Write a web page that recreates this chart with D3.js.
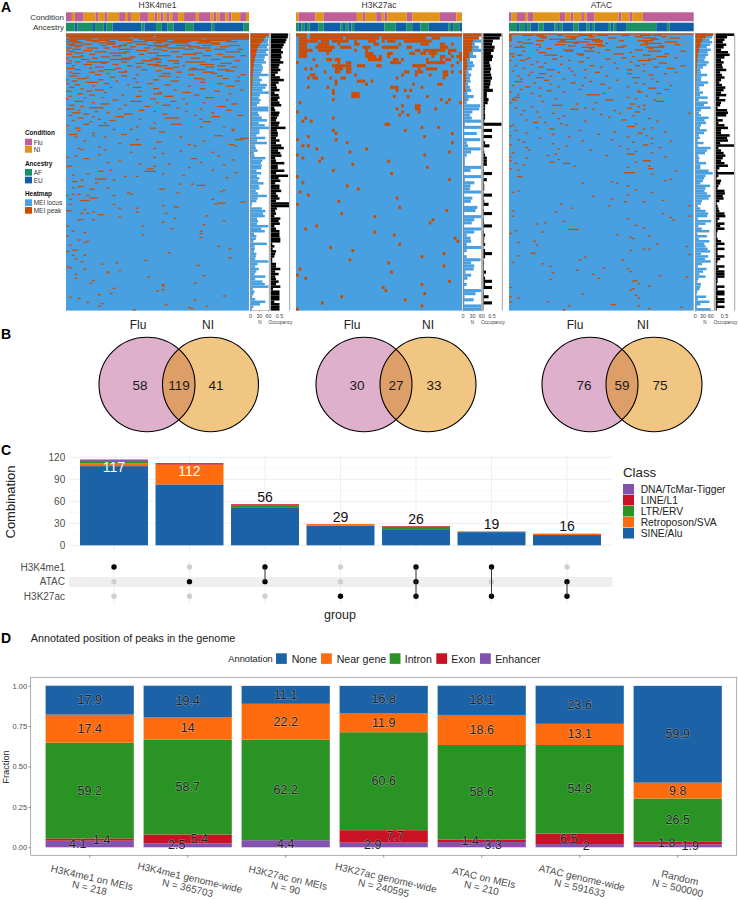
<!DOCTYPE html>
<html>
<head>
<meta charset="UTF-8">
<title>MEI peaks</title>
<script src="https://d3js.org/d3.v7.min.js"></script>
<style>
  body { margin: 0; background: #fff; }
  svg { display: block; font-family: "Liberation Sans", Arial, sans-serif; }
</style>
</head>
<body>
<svg id="chart" width="738" height="901"></svg>
<script>
// ---- A: heatmaps. Annotation tracks are runs of samples, peaks are [row, column, length]
const me1Condition = [["Flu",2],["NI",1],["Flu",3],["NI",4],["Flu",1],["NI",2],["Flu",1],["NI",4],["Flu",2],["NI",1],["Flu",1],["NI",3],["Flu",3],["NI",2],["Flu",1],["NI",1],["Flu",1],["NI",1],["Flu",1],["NI",1],["Flu",2],["NI",2],["Flu",4],["NI",1],["Flu",4],["NI",1],["Flu",1],["NI",1],["Flu",2],["NI",1],["Flu",1],["NI",3],["Flu",2],["NI",1]];
const me1Ancestry = [["AF",3],["EU",1],["AF",5],["EU",1],["AF",3],["EU",1],["AF",2],["EU",10],["AF",1],["EU",4],["AF",2],["EU",2],["AF",2],["EU",4],["AF",3],["EU",6],["AF",1],["EU",10],["AF",2]];
const k27Condition = [["NI",1],["Flu",6],["NI",3],["Flu",12],["NI",2],["Flu",1],["NI",4],["Flu",2],["NI",1],["Flu",1],["NI",7],["Flu",2],["NI",10],["Flu",6],["NI",2]];
const k27Ancestry = [["AF",1],["EU",1],["AF",1],["EU",1],["AF",1],["EU",3],["AF",2],["EU",6],["AF",1],["EU",1],["AF",1],["EU",1],["AF",1],["EU",11],["AF",4],["EU",4],["AF",2],["EU",3],["AF",3],["EU",7],["AF",1],["EU",1],["AF",2],["EU",1]];
const atacCondition = [["Flu",1],["NI",2],["Flu",3],["NI",1],["Flu",2],["NI",10],["Flu",2],["NI",2],["Flu",1],["NI",3],["Flu",1],["NI",1],["Flu",3],["NI",9],["Flu",1],["NI",3],["Flu",1],["NI",4],["Flu",19]];
const atacAncestry = [["AF",3],["EU",1],["AF",2],["EU",1],["AF",1],["EU",3],["AF",2],["EU",4],["AF",1],["EU",1],["AF",1],["EU",4],["AF",2],["EU",3],["AF",1],["EU",1],["AF",1],["EU",5],["AF",1],["EU",1],["AF",1],["EU",4],["AF",11],["EU",4],["AF",1],["EU",9]];

const me1Peaks = [[0,0,63],[1,0,63],[2,0,30],[2,31,32],[3,1,21],[3,23,40],[4,0,9],[4,11,12],[4,25,22],[4,48,15],[5,1,3],[5,7,8],[5,18,5],[5,27,8],[5,37,20],[6,0,5],[6,9,2],[6,14,3],[6,23,5],[6,31,12],[6,46,4],[6,55,4],[7,2,4],[7,11,6],[7,21,2],[7,30,3],[7,36,6],[7,45,8],[8,0,3],[8,6,3],[8,14,3],[8,20,1],[8,24,4],[8,34,2],[8,50,3],[9,1,5],[9,12,2],[9,18,3],[9,28,7],[9,38,5],[9,47,3],[9,56,4],[10,3,2],[10,16,3],[10,22,2],[10,31,4],[10,42,4],[10,53,3],[11,0,2],[11,7,4],[11,13,2],[11,27,2],[11,35,6],[11,45,5],[12,2,3],[12,18,5],[12,30,3],[12,41,3],[12,51,4],[12,59,2],
[13,0,1],[13,6,3],[13,24,4],[13,33,2],[13,48,2],[14,1,2],[14,10,4],[14,20,2],[14,36,3],[14,55,5],[15,3,3],[15,15,6],[15,28,4],[15,44,3],[16,0,2],[16,8,2],[16,25,2],[16,40,5],[16,52,2],[17,5,1],[17,16,3],[17,31,5],[17,47,3],[17,60,2],[18,2,4],[18,12,3],[18,22,2],[18,38,2],[18,54,4],[19,0,1],[19,9,2],[19,19,4],[19,30,2],[19,43,3],[20,5,3],[20,15,7],[20,29,4],[20,50,3],[21,1,1],[21,26,4],[21,35,4],[21,58,2],[22,3,2],[22,7,8],[22,19,2],[22,31,2],[22,41,7],[23,0,2],[23,12,2],[23,24,3],[23,37,2],[23,53,4],[24,6,3],[24,16,2],[24,28,4],[24,46,5],[25,2,1],[25,21,2],[25,30,5],[25,40,1],[25,52,3],[26,10,3],[26,24,2],[26,37,2],[26,48,3],[26,57,2],[27,0,3],[27,8,1],[27,17,2],[27,34,3],[27,43,2],[28,3,2],[28,13,4],[28,26,2],[28,42,6],[28,52,4],[29,11,2],[29,20,1],[29,31,2],[29,55,3],[30,1,1],[30,8,2],[30,18,3],[30,38,2],[30,47,4],[31,2,3],[31,14,1],[31,33,3],[31,50,2],[32,10,2],[32,24,1],[32,42,2],[32,60,2],[33,1,3],[33,19,2],[33,32,4],[33,52,2],[34,7,1],[34,15,2],[34,38,1],[34,59,1],[35,4,3],[35,23,1],[35,44,3],[35,54,2],[36,0,1],[36,11,2],[36,30,2],[36,47,1],[37,2,2],[37,17,1],[37,36,3],[37,58,2],[38,7,4],[38,24,1],[38,46,2],[39,0,1],[39,13,2],[39,28,2],[39,52,2],
[40,3,2],[40,21,1],[40,34,2],[41,9,1],[41,42,1],[41,55,3],[42,1,2],[42,15,1],[42,23,3],[43,5,1],[43,30,2],[43,46,2],[44,10,3],[44,37,1],[44,60,1],[45,0,2],[45,7,2],[45,25,1],[45,51,2],[46,13,1],[46,32,1],[46,40,3],[47,4,2],[47,30,3],[47,56,1],[48,8,2],[48,19,1],[48,44,2],[49,1,1],[49,24,2],[49,34,3],[50,6,1],[50,12,1],[50,48,3],[51,0,1],[51,29,2],[51,40,1],[52,16,2],[52,55,1],[53,3,3],[53,22,4],[53,36,2],[54,9,1],[54,31,1],[54,47,1],[55,12,3],[55,41,1],[55,57,2],[56,1,2],[56,20,1],[56,33,3],[57,5,1],[57,27,2],[57,52,3],[58,8,5],[58,38,1],[59,0,3],[59,18,1],[59,46,1],[60,4,1],[60,25,2],[60,55,2],[61,10,1],[61,30,1],[61,41,1],[62,2,3],[62,14,1],[62,50,1],[63,6,2],[63,20,3],[63,33,2],[64,1,1],[64,44,1],[64,59,2],[65,50,3],[65,9,1],[65,17,3],[66,34,5],[66,4,2],[67,11,1],[67,46,1],[67,25,1],[68,2,1],[68,15,2],[69,47,3],[69,8,1],[70,30,1],[70,13,1],[71,36,4],[71,6,2],[72,0,1],[72,11,4],[73,46,1],[73,54,1],[73,24,1],[74,3,2],[74,29,2],[75,22,1],[75,57,1],[75,16,1],[76,57,1],[76,4,1],[77,32,2],[78,9,1],[79,1,3],[79,19,2],[80,51,3],[80,9,1],[81,3,1],[81,13,1],[81,39,1],[82,60,3],[83,58,3],[83,24,1],[84,6,1],[84,47,1],[85,31,2],[86,18,1],[87,22,4],[87,42,1],[87,56,2],[88,44,1],[88,58,1],[89,11,1],[90,30,1],[90,4,1],[91,5,1],[91,13,1],[92,39,1],[93,22,1],[93,50,1],[94,33,1],[95,11,1],[96,3,1],[96,52,1],[97,0,1],[97,30,1],[98,43,2],[98,6,2],[99,57,1],[100,18,1],[101,14,1],[101,46,1],[102,35,1],[102,25,1],[103,54,1],[104,0,2],[104,30,1],[105,42,1],[106,28,2],[107,15,1],[107,50,1],[108,11,2],[108,27,4],[109,58,1],[110,33,1],[110,7,1],[111,40,1],[111,2,1],[112,20,1],[112,24,1],[113,55,1],
[114,10,4],[115,16,1],[115,5,1],[116,2,2],[117,10,1],[118,39,1],[118,43,1],[119,45,3],[120,4,2],[121,2,1],[121,14,1],[122,8,2],[122,32,2],[123,54,1],[124,53,1],[125,21,1],[125,38,1],[126,2,1],[126,4,1],[126,22,1],[127,0,1],[127,7,1],[127,16,1],[129,8,2],[129,10,1],[130,1,1],[130,50,1],[131,5,3],[132,60,2],[133,52,3],[134,1,1],[134,16,1],[134,51,1],[135,33,1],[136,37,2],[137,18,1],[137,24,1],[138,6,1],[139,0,2],[140,9,1],[140,24,1],[141,5,1],[141,7,1],[141,34,1],[142,11,2],[143,48,1],[144,18,1],[145,37,1],[146,4,2],[146,9,1],[147,54,1],[148,33,1],[150,47,1],[151,0,1],[151,26,1],[153,36,1],[155,2,1],[155,46,1],[156,6,1],[157,46,1],[158,26,1],[159,0,1],[160,46,1],[162,4,1],[163,7,1],[164,6,1],[166,1,1],[167,52,1],[169,56,1],[170,2,2],[171,0,1],[172,35,1],[174,2,1],[174,6,1],[176,56,1],[177,3,1],[178,27,1],[179,5,1],[180,17,1],[181,12,1],[182,45,1],[183,0,1],[184,1,1],[185,6,1],[186,18,1],[187,14,1],[188,14,1],[189,3,1],[190,47,1],[191,28,1],[192,3,1],[194,9,1],[196,8,1],[196,44,1],[197,33,1],[198,33,1],[200,16,1],[201,33,1],[202,31,1],[204,15,1],[205,11,1],[206,54,1],[207,1,1],[208,4,1],[209,44,1],[211,7,1],[212,12,1],[213,34,1],[214,11,1],[214,48,1],[215,42,1],[216,43,1],[217,23,1]];

const k27Peaks = [[0,0,4],[0,5,55],[1,1,3],[1,5,12],[1,18,12],[1,31,16],[1,49,3],[2,1,7],[2,9,3],[2,13,6],[2,21,1],[2,26,3],[2,31,1],[2,33,3],[2,39,10],[3,1,3],[3,8,4],[3,15,1],[3,21,2],[3,28,2],[3,37,1],[3,45,3],[3,52,2],[3,56,1],[4,1,3],[4,7,3],[4,10,3],[4,13,1],[4,16,4],[4,24,3],[4,31,6],[4,40,2],[4,52,3],[5,1,3],[5,4,2],[5,8,5],[5,21,1],[5,25,1],[5,43,2],[5,46,6],[5,52,2],[5,55,3],[6,1,3],[6,11,1],[6,25,3],[6,33,2],[6,41,2],[6,45,2],[6,48,3],[6,55,1],[6,59,1],[7,1,3],[7,25,4],[7,30,1],[7,33,1],[7,49,1],[7,52,2],[7,56,1],[7,58,2],[8,6,1],[8,11,2],[8,14,2],[8,26,3],[8,29,2],[8,35,2],[8,38,1],[8,47,1],[8,52,1],[8,54,2],[8,59,1],[9,0,1],[9,15,1],[9,18,2],[9,34,3],[9,37,1],[9,47,4],[9,51,3],[9,58,1],[10,7,1],[10,13,5],[10,18,2],[10,22,3],[10,29,2],[10,42,5],[10,56,1],[11,3,1],[11,5,1],[11,14,3],[11,18,2],[11,44,1],[11,47,4],[12,10,1],[12,14,2],[12,18,2],[12,39,2],[12,43,3],[12,53,2],[12,56,1],[12,59,1],[13,5,2],[13,21,1],[13,38,1],[13,43,1],[13,48,1],[13,53,2],[14,4,1],[14,6,2],[14,12,1],[14,16,2],[14,36,1],[14,53,1],[15,14,1],[15,22,3],[15,27,1],[16,14,1],[16,25,1],[16,42,1],[16,51,2],[17,4,1],[17,11,1],[17,34,2],[17,36,1],[17,45,1],[18,13,1],[18,36,1],[18,39,1],[18,41,1],[19,13,1],[19,20,3],[20,20,2],[20,47,1],[20,22,1],[20,35,1],[20,40,1],[21,13,1],[21,52,1],[21,55,1],[22,1,1],[22,54,1],[22,59,1],[23,38,1],[23,43,2],[24,36,1],[24,43,2],[24,50,1],[25,0,1],[25,38,1],[25,44,1],[26,37,1],[26,40,1],[27,3,1],[27,13,1],[28,2,1],[28,5,1],[29,32,2],[30,45,1],[30,51,1],[31,13,1],[31,39,1],[32,14,1],[32,56,1],[33,4,1],[33,46,1],[34,0,1],[34,14,1],[35,18,1],[35,56,1],[36,2,1],[36,4,1],[37,7,1],[37,25,1],[38,19,1],[38,55,1],[39,0,1],[39,46,1],[40,2,1],[40,9,1],[41,8,1],[41,33,1],[42,20,1],[43,47,1],[44,13,1],[45,34,1],[46,0,1],[47,55,1],[48,2,1],[49,18,1],[50,22,1],[51,1,1],[52,4,1],[53,36,1],[54,15,1],[55,0,1],[56,37,1],[57,54,1],[58,16,1],[59,28,1],[60,49,1],[61,48,1],[62,7,1],[63,3,1],[64,28,1],[65,35,1],[66,57,1],[67,58,1],[68,37,1],[69,12,1],[70,20,1],[71,53,1],[72,45,1],[73,19,1],[74,33,1],[75,53,1],[76,1,1],[77,34,1],[78,0,1],[79,3,1],[80,55,1],[81,45,1],[82,31,1],[83,32,1],[84,46,1],[85,16,1],[86,39,1],[87,9,1],[88,45,1],[89,0,1]];

const atacPeaks = [[0,0,69],[1,0,1],[1,5,4],[1,10,3],[1,18,2],[1,26,5],[1,33,4],[1,42,3],[1,49,4],[1,54,3],[2,0,1],[2,11,3],[2,21,5],[2,30,2],[2,47,3],[2,57,2],[3,0,1],[3,12,2],[3,23,2],[3,37,3],[3,50,5],[3,60,4],[4,0,1],[4,7,1],[4,15,10],[4,28,6],[4,53,3],[5,0,1],[5,10,3],[5,19,2],[5,31,4],[5,41,2],[5,48,6],[6,3,2],[6,18,12],[6,32,3],[6,50,2],[6,58,5],[7,5,4],[7,24,2],[7,36,1],[7,51,6],[8,10,2],[8,17,4],[8,29,6],[8,49,3],[8,62,2],[9,0,1],[9,4,1],[9,22,3],[9,33,3],[9,42,2],[9,56,2],[10,2,4],[10,11,1],[10,27,5],[10,40,3],[10,51,7],[11,14,2],[11,30,1],[11,52,2],[12,10,1],[12,20,4],[12,36,2],[12,47,3],[13,5,1],[13,21,3],[13,28,4],[13,52,5],[13,64,2],[14,11,3],[14,33,1],[14,45,1],[15,0,2],[15,25,3],[15,39,4],[15,58,2],[16,3,2],[16,13,5],[16,26,2],[16,50,3],[17,1,1],[17,19,1],[17,46,1],[17,55,4],[18,7,1],[18,29,1],[18,42,2],[18,62,1],[19,6,1],[19,16,2],[19,36,2],[19,52,3],[20,0,1],[20,4,2],[20,22,1],[20,48,5],[21,10,1],[21,26,2],[21,45,1],[22,13,1],[22,39,1],[22,56,3],[23,8,1],[23,19,1],[23,50,1],[24,2,1],[24,30,2],[24,47,2],[24,64,2],[25,11,2],[25,34,1],[25,54,2],[26,5,1],[26,22,1],[26,40,1],[26,59,3],[27,14,3],[27,28,1],[27,44,2],[28,1,1],[28,23,1],[28,50,1],[29,8,1],[29,18,1],[29,32,2],[29,62,1],[30,11,3],[30,44,2],[30,58,1],[31,7,1],[31,24,1],[31,52,2],[32,3,1],[32,15,1],[32,36,1],[33,10,3],[33,28,1],[33,46,3],[34,4,1],[34,20,1],[34,53,1],[35,13,2],[35,40,1],[36,2,3],[36,30,1],[36,55,1],[37,9,1],[37,23,2],[37,47,1],[38,15,1],[38,34,2],[38,50,1],[39,1,1],[39,27,1],[39,60,1],[40,6,2],[40,18,1],[40,44,1],[41,11,1],[41,37,1],[41,52,3],[42,4,1],[42,26,1],[42,58,2],[43,14,2],[43,48,1],[44,48,2],[44,20,1],[44,0,1],[45,8,1],[45,55,2],[45,35,1],[46,29,5],[46,3,1],[47,51,1],[47,11,1],[48,2,2],[48,44,1],[49,1,1],[49,17,1],[49,47,1],[50,1,2],[50,36,3],[50,54,1],[51,55,3],[51,12,1],[52,0,1],[52,32,1],[53,45,2],[53,25,1],[54,16,4],[54,50,1],[55,8,1],[55,48,1],[56,2,1],[56,28,1],[56,44,2],[57,23,3],[57,31,1],[57,50,1],[58,5,1],[58,39,1],[59,47,2],[59,10,1],[60,16,1],[60,41,1],[60,67,1],[61,4,1],[61,34,1],[62,46,1],[62,20,1],[63,11,1],[63,37,1],[64,18,1],[64,52,1],[65,6,1],[65,42,2],[66,28,1],[66,55,1],[67,9,2],[67,13,1],[68,19,1],[68,47,1],[69,1,1],[69,21,1],[70,44,3],[70,0,1],[71,10,1],[71,53,1],[72,15,2],[72,50,1],[73,2,1],[73,26,1],[74,39,1],[74,58,1],[75,6,1],[75,48,2],[76,16,1],[76,33,1],[77,0,1],[77,51,1],[78,22,1],[78,44,1],[79,53,1],[79,11,1],[80,3,1],[80,38,1],[81,27,1],[81,60,1],[82,5,1],[82,46,1],[83,16,1],[83,53,1],[84,0,1],[84,50,2],[85,21,1],[85,41,1],[86,6,1],[86,56,1],[87,18,1],[87,44,1],[88,7,1],[88,30,1],[89,47,1],[90,1,1],[90,53,1],[91,44,3],[91,17,1],[92,14,1],[92,36,1],[93,0,1],[93,58,1],[94,6,1],[95,18,1],[96,50,3],[96,0,1],[97,15,2],[97,47,1],[98,20,3],[98,2,1],[99,5,1],[100,24,1],[100,52,1],[101,44,1],[102,0,1],[102,52,2],[103,3,1],[104,62,1],[105,43,2],[105,45,2],[106,53,1],[108,3,2],[110,60,1],[111,58,1],[112,38,1],[113,27,1],[113,40,1],[115,44,1],[118,47,1],[119,3,1],[120,1,1],[120,53,1],[122,44,1],[123,31,1],[125,38,1],[126,57,1],[127,43,1],[127,50,1],[129,19,1],[130,37,1],[130,67,1],[132,23,1],[134,1,1],[135,17,1],[136,57,1],[138,1,1],[138,67,1],[139,60,1],[140,44,1],[141,61,1],[142,20,1],[143,13,1],[144,10,1],[145,47,1],[147,50,1],[148,22,4],[149,2,1],[150,12,1],[151,0,1],[152,40,1],[153,52,1],[154,45,1],[155,46,1],[157,9,1],[158,3,1],[159,55,1],[160,10,1],[161,66,1],[163,50,1],[163,52,1],[164,45,1],[166,8,2],[167,67,1],[168,3,1],[169,28,1],[171,26,1],[171,42,1],[173,1,1],[174,12,1],[176,15,1],[177,35,1],[178,44,1],[179,25,1],[180,45,1],[181,16,1],[182,31,1],[183,56,1],[184,66,1],[185,33,1],[186,15,1],[187,46,2],[189,48,1],[191,52,1],[192,0,1],[193,46,1],[194,45,1],[197,27,1],[198,47,1],[199,0,1],[200,3,1],[200,48,1],[203,0,1],[203,14,1],[205,38,2],[206,22,1],[206,48,1],[207,64,1],[208,52,1],[209,20,1]];

// side bars: N of samples with the locus, N with a peak (rest of the rows are 1), occupancy
const me1N = [63,63,60,58,60,55,60,52,58,48,45,52,38,42,40,36,60,30,38,32,55,50,40,62,32,28,34,30,22,60,60,25,30,38,55,28,48,62,30,30,20,50,22,55,16,18,24,12,14,50,40,35,38,36,20,36,22,30,25,44,28,30,18,25,55,24,20,6,4,38,50,42,48,22,26,22,60,36,48,12,20,18,10,55,14,15,12,20,18,16,60,24,16,28,20,14,50,16,40,48,60,8,14,10,6,16,50,32,10,5];
const me1Wedge = [63,50,45,38,30,26,22,20,18,16,14,12,12,10,10,9,8,8,7,7,6,6,5,5,5,4,4,4,4,3,3,3,3,3,3,3,3,3,2,2,2,2,2,2,2,2,2,2,2,2];
const me1Occ = [1,.98,.9,.85,.75,.68,.6,.7,.6,.62,.55,.72,.5,.45,.55,.4,.25,.52,.75,.45,.3,.35,.5,.22,.45,.5,.4,.5,.6,.2,.25,.5,.45,.35,.3,.5,.45,.85,.35,.4,.4,.3,.5,.3,.6,.75,.42,.55,.62,.25,.3,.78,.4,.4,.78,.3,1,.45,.55,.25,.5,.5,.6,.3,.4,.5,.3,1.05,1.05,.35,.25,.3,.2,.55,.45,.52,.2,.3,.5,.5,.5,.55,.55,.08,.2,.1,.3,.25,.2,.08,.08,.3,.3,.55,.25,.45,.25,.3,.45,.3,.55,.12,.5,.5,.5,.5,.2,.5,.5,.5];
const k27N = [60,52,58,38,50,58,32,42,22,32,36,28,18,26,22,24,16,22,26,14,34,18,12,55,52,30,22,28,58,6,60,4,44,4,55,12,16,56,26,12,6,6,6,58,24,4,58,6,36,24,22,58,4,30,25,4,46,40,4,60,36,28,4,58,36,12,24,26,12,60,12,4,12,56,26,36,34,8,26,14,4,12,4,58,40,5,34,4,60,60];
const k27Wedge = [58,50,32,28,30,28,20,20,12,12,14,12,8,10,10,9,7,7,8,3,4,5,3,3,3,2,2,2,2,2];
const k27Occ = [1.05,.95,.55,.5,.65,.6,.45,.55,.5,.35,.4,.45,.4,.45,.5,.42,.4,.35,.55,.2,.2,.3,.25,.1,.1,.08,.1,.1,.05,1.05,.02,.5,.02,.5,.02,.1,.35,.02,.05,.1,.2,.2,.2,.02,.03,.5,.02,.2,.03,.05,.05,.02,.5,.03,.05,.3,.02,.03,.5,.02,.03,.04,.5,.02,.03,.1,.05,.04,.1,.02,.1,.5,.1,.02,.04,.03,.03,.15,.04,.1,.5,.1,.5,.02,.03,.3,.03,.5,.02,.02];
const atacN = [70,66,56,66,58,45,60,48,50,40,36,52,44,30,20,22,46,24,22,50,34,16,16,30,18,48,14,48,34,60,22,14,22,52,36,42,22,18,44,34,14,18,10,32,10,60,45,38,12,16,14,42,20,20,52,68,40,35,30,20,58,40,36,45,60,52,26,22,10,20,40,50,46,10,62,40,12,25,55,8,45,14,55,35,40,48,58,22,50,38,60,26,10,44,30,15,40,12,8,22,20,16,8,5,42,10,55,20,6,60];
const atacWedge = [69,40,28,22,20,16,14,12,10,9,8,7,6,6,5,5,4,4,4,3,3,3,3,3,2,2,2,2,2,2];
const atacOcc = [1.05,.65,.5,.4,.6,.45,.3,.7,.8,.5,.3,.45,.35,.4,.6,.25,.35,.5,.3,.2,.35,.55,.45,.3,.6,.2,.55,.3,.25,.1,.65,.7,.6,.1,.4,.15,.5,.7,.3,.3,.8,.65,.7,.25,1.05,.15,.3,.45,.55,.4,.3,.5,.7,.2,.1,1.05,.15,.05,.3,.25,.15,.1,.5,.52,.4,.45,.2,.05,.1,.15,.2,.5,.55,.2,.1,.5,.25,.5,.1,.05,.05,.1,.3,.5,.1,.5,.1,.1,.5,.25,.1,.05,.5,.15,.5,.5,.5,.1,.1,.05,.5,.1,.5,.5,.1,.5,.5,.1,.5,.05];

// ---- B: venn counts, [Flu only, both, NI only]
const vennMe1 = [58, 119, 41];
const vennK27 = [30, 27, 33];
const vennAtac = [76, 59, 75];

// ---- C: upset bars
const upsetTotals = [117, 112, 56, 29, 26, 19, 16];
const upsetClasses = ["SINE/Alu", "Retroposon/SVA", "LTR/ERV", "LINE/L1", "DNA/TcMar-Tigger"];
const upsetSine = [108, 83, 51, 27, 22, 18, 14];
const upsetSva = [4, 27, 0, 2, 0, 1, 2];
const upsetLtr = [2, 0, 3, 0, 3, 0, 0];
const upsetLine = [1, 2, 2, 0, 1, 0, 0];
const upsetDna = [2, 0, 0, 0, 0, 0, 0];
const upsetSets = ["H3K4me1", "ATAC", "H3K27ac"];
const upsetMembers = [["H3K4me1"], ["ATAC"], ["H3K4me1", "ATAC"], ["H3K27ac"], ["H3K4me1", "ATAC", "H3K27ac"], ["H3K4me1", "H3K27ac"], ["ATAC", "H3K27ac"]];

// ---- D: annotation fractions in percent
const annoBars = [["H3K4me1 on MEIs", "N = 218"], ["H3K4me1 genome-wide", "N = 365703"], ["H3K27ac on MEIs", "N = 90"], ["H3K27ac genome-wide", "N = 240595"], ["ATAC on MEIs", "N = 210"], ["ATAC genome-wide", "N = 591633"], ["Random", "N = 500000"]];
const annoClasses = ["Enhancer", "Exon", "Intron", "Near gene", "None"];
const annoEnhancer = [4.1, 2.5, 4.4, 2.9, 3.3, 2, 1.9];
const annoExon = [1.4, 5.4, 0, 7.7, 1.4, 6.5, 1.8];
const annoIntron = [59.2, 58.7, 62.2, 60.6, 58.6, 54.8, 26.5];
const annoNear = [17.4, 14, 22.2, 11.9, 18.6, 13.1, 9.8];
const annoNone = [17.9, 19.4, 11.1, 16.8, 18.1, 23.6, 59.9];

const svg = d3.select("#chart");
const trackCol = { Flu: "#BF5F98", NI: "#E2931A", AF: "#1B9064", EU: "#0F5FA8" };
const heatBlue = "#48A0E0", heatOrange = "#CC4C02";
const classCol = { "SINE/Alu": "#1B62A6", "Retroposon/SVA": "#FF6B0F", "LTR/ERV": "#299324", "LINE/L1": "#CB1224", "DNA/TcMar-Tigger": "#8351AE",
  "None": "#1B62A6", "Near gene": "#FF6B0F", "Intron": "#299324", "Exon": "#CB1224", "Enhancer": "#8351AE" };

function label(x, y, txt, size, opts) {
  opts = opts || {};
  return svg.append("text").attr("x", x).attr("y", y).text(txt)
    .attr("font-size", size)
    .attr("dominant-baseline", "central")
    .attr("text-anchor", opts.anchor || "start")
    .attr("font-weight", opts.weight || "normal")
    .attr("fill", opts.fill || "#222");
}

// panel letters
[["A", 7], ["B", 334], ["C", 450], ["D", 638]].forEach(d => label(1, d[1], d[0], 14, { weight: "bold", fill: "#000" }));

// ---- A
function track(runs, x0, x1, y0, y1) {
  const total = d3.sum(runs, d => d[1]);
  const x = d3.scaleLinear().domain([0, total]).range([x0, x1]);
  let at = 0;
  runs.forEach(r => {
    svg.append("rect").attr("x", x(at)).attr("y", y0).attr("width", x(at + r[1]) - x(at)).attr("height", y1 - y0).attr("fill", trackCol[r[0]]);
    at += r[1];
  });
}

function heatPanel(p) {
  const top = 33.4, bottom = 310.6;
  label((p.x0 + p.x1) / 2, 5, p.title, 8.5, { anchor: "middle", fill: "#333" });
  track(p.cond, p.x0, p.x1, 12.3, 21.3);
  track(p.anc, p.x0, p.x1, 22.7, 31.3);

  const col = d3.scaleBand().domain(d3.range(p.cols)).range([p.x0, p.x1]);
  const row = d3.scaleBand().domain(d3.range(p.rows)).range([top, bottom]);
  svg.append("rect").attr("x", p.x0).attr("y", top).attr("width", p.x1 - p.x0).attr("height", bottom - top).attr("fill", heatBlue);
  svg.append("g").selectAll("rect").data(p.peaks).join("rect")
    .attr("x", d => col(d[1]))
    .attr("y", d => row(d[0]))
    .attr("width", d => col.bandwidth() * d[2])
    .attr("height", row.bandwidth())
    .attr("fill", heatOrange);

  // N bars
  const bar = d3.scaleBand().domain(d3.range(p.n.length)).range([top, bottom]);
  const nx = d3.scaleLinear().domain([0, p.nMax]).range([p.barX, p.barX + p.barW]);
  svg.append("g").selectAll("rect").data(p.n).join("rect")
    .attr("x", p.barX).attr("y", (d, i) => bar(i))
    .attr("width", d => nx(d) - p.barX).attr("height", bar.bandwidth())
    .attr("fill", heatBlue);
  svg.append("g").selectAll("rect").data(p.n).join("rect")
    .attr("x", p.barX).attr("y", (d, i) => bar(i))
    .attr("width", (d, i) => nx(p.wedge[i] === undefined ? 1 : p.wedge[i]) - p.barX).attr("height", bar.bandwidth())
    .attr("fill", heatOrange);
  svg.append("rect").attr("x", p.barX).attr("y", top).attr("width", p.barW).attr("height", bottom - top)
    .attr("fill", "none").attr("stroke", "#888").attr("stroke-width", 0.5);
  svg.append("rect").attr("x", p.barX + p.barW - 0.5).attr("y", top).attr("width", 2).attr("height", bottom - top).attr("fill", "#b0b0b0");

  // occupancy bars
  const ox0 = p.barX + p.barW + 1.6, ow = 18.4;
  const ox = d3.scaleLinear().domain([0, 1.07]).range([ox0, ox0 + ow]);
  svg.append("g").selectAll("rect").data(p.occ).join("rect")
    .attr("x", ox0).attr("y", (d, i) => bar(i))
    .attr("width", d => ox(d) - ox0).attr("height", bar.bandwidth())
    .attr("fill", "#000");
  svg.append("rect").attr("x", ox0 + ow).attr("y", top).attr("width", 0.9).attr("height", bottom - top).attr("fill", "#999");

  // ticks under the bars
  [0, 30, 60].forEach(t => {
    svg.append("line").attr("x1", nx(t)).attr("x2", nx(t)).attr("y1", bottom).attr("y2", bottom + 1.5).attr("stroke", "#888").attr("stroke-width", 0.4);
    label(nx(t), 316, t, 5.4, { anchor: "middle", fill: "#444" });
  });
  label(ox(0.5), 316, "0.5", 5.4, { anchor: "middle", fill: "#444" });
  label(p.barX + p.barW / 2, 322, "N", 4.6, { anchor: "middle", fill: "#444" });
  label(ox(0.5) + 1, 322, "Occupancy", 4.8, { anchor: "middle", fill: "#444" });
}

heatPanel({ title: "H3K4me1", x0: 66, x1: 249, cols: 63, rows: 218, cond: me1Condition, anc: me1Ancestry, peaks: me1Peaks, n: me1N, wedge: me1Wedge, occ: me1Occ, barX: 250.4, barW: 18.9, nMax: 63 });
heatPanel({ title: "H3K27ac", x0: 296, x1: 462, cols: 60, rows: 90, cond: k27Condition, anc: k27Ancestry, peaks: k27Peaks, n: k27N, wedge: k27Wedge, occ: k27Occ, barX: 463, barW: 18.8, nMax: 60 });
heatPanel({ title: "ATAC", x0: 509, x1: 693.7, cols: 69, rows: 210, cond: atacCondition, anc: atacAncestry, peaks: atacPeaks, n: atacN, wedge: atacWedge, occ: atacOcc, barX: 695.3, barW: 19, nMax: 74 });

label(64, 17, "Condition", 8, { anchor: "end", fill: "#333" });
label(64, 27, "Ancestry", 8, { anchor: "end", fill: "#333" });

// heatmap legend
[["Condition", 132.7, [["Flu", "Flu", 138.7], ["NI", "NI", 146]]],
 ["Ancestry", 163, [["AF", "AF", 169], ["EU", "EU", 176.7]]],
 ["Heatmap", 193.3, [["MEI locus", heatBlue, 199.3], ["MEI peak", heatOrange, 207]]]].forEach(g => {
  label(25, g[1], g[0], 6.4, { weight: "bold", fill: "#111" });
  g[2].forEach(k => {
    svg.append("rect").attr("x", 25).attr("y", k[2]).attr("width", 7).attr("height", 6.7).attr("fill", trackCol[k[1]] || k[1]);
    label(33.7, k[2] + 3.4, k[0], 6.5, { fill: "#333" });
  });
});

// ---- B
const vennDefs = svg.append("defs");
function venn(id, cx1, cx2, labelX1, labelX2, counts, countXs) {
  const cy = 384.5, rx = 48, ry = 47.2;
  vennDefs.append("clipPath").attr("id", id).append("ellipse").attr("cx", cx1).attr("cy", cy).attr("rx", rx).attr("ry", ry);
  svg.append("ellipse").attr("cx", cx1).attr("cy", cy).attr("rx", rx).attr("ry", ry).attr("fill", "#DFB0CC");
  svg.append("ellipse").attr("cx", cx2).attr("cy", cy).attr("rx", rx).attr("ry", ry).attr("fill", "#F0C682");
  svg.append("ellipse").attr("cx", cx2).attr("cy", cy).attr("rx", rx).attr("ry", ry).attr("fill", "#DE9E68").attr("clip-path", "url(#" + id + ")");
  [cx1, cx2].forEach(c => svg.append("ellipse").attr("cx", c).attr("cy", cy).attr("rx", rx).attr("ry", ry).attr("fill", "none").attr("stroke", "#000").attr("stroke-width", 1.1));
  label(labelX1, 324.5, "Flu", 12, { anchor: "middle", fill: "#222" });
  label(labelX2, 324.5, "NI", 12, { anchor: "middle", fill: "#222" });
  counts.forEach((c, i) => label(countXs[i], 385, c, 13.5, { anchor: "middle", fill: "#1a1a1a" }));
}
venn("vennA", 147, 210.5, 138, 208, vennMe1, [140, 179, 216]);
venn("vennB", 364, 428, 352, 428, vennK27, [357, 396, 434]);
venn("vennC", 590, 654, 575, 643, vennAtac, [584, 622, 660]);

// ---- C
const upX = d3.scaleBand().domain(d3.range(upsetTotals.length)).range([68.7, 612.3]).paddingInner(0.1).paddingOuter(0.15);
const upY = d3.scaleLinear().domain([0, 120]).range([545.3, 457.3]);
const upRows = d3.scalePoint().domain(upsetSets).range([567, 596.3]);

const upGrid = svg.append("g");
[15, 45, 75, 105].forEach(t => upGrid.append("line").attr("x1", 68.7).attr("x2", 612.3).attr("y1", upY(t)).attr("y2", upY(t)).attr("stroke", "#f2f2f2").attr("stroke-width", 0.5));
[0, 30, 60, 90, 120].forEach(t => upGrid.append("line").attr("x1", 68.7).attr("x2", 612.3).attr("y1", upY(t)).attr("y2", upY(t)).attr("stroke", "#ebebeb").attr("stroke-width", 0.8));
upsetTotals.forEach((d, i) => {
  const cx = upX(i) + upX.bandwidth() / 2;
  upGrid.append("line").attr("x1", cx).attr("x2", cx).attr("y1", 455.5).attr("y2", 551).attr("stroke", "#ebebeb").attr("stroke-width", 0.8);
  upGrid.append("line").attr("x1", cx).attr("x2", cx).attr("y1", 559).attr("y2", 605).attr("stroke", "#ebebeb").attr("stroke-width", 0.8);
});

const upStack = d3.stack().keys(upsetClasses)(upsetTotals.map((d, i) => ({
  "SINE/Alu": upsetSine[i], "Retroposon/SVA": upsetSva[i], "LTR/ERV": upsetLtr[i], "LINE/L1": upsetLine[i], "DNA/TcMar-Tigger": upsetDna[i]
})));
svg.append("g").selectAll("g").data(upStack).join("g")
  .attr("fill", d => classCol[d.key])
  .selectAll("rect").data(d => d).join("rect")
  .attr("x", (d, i) => upX(i))
  .attr("y", d => upY(d[1]))
  .attr("width", upX.bandwidth())
  .attr("height", d => upY(d[0]) - upY(d[1]));

upsetTotals.forEach((d, i) => {
  const cx = upX(i) + upX.bandwidth() / 2;
  const inside = i < 2;
  label(cx, inside ? upY(d) + 7.5 : upY(d) - 7.5, d, 14, { anchor: "middle", fill: inside ? "#fff" : "#111" });
});

const upAxis = svg.append("g").attr("transform", "translate(68.7,0)").call(d3.axisLeft(upY).tickValues([0, 30, 60, 90, 120]).tickSize(0).tickPadding(3.5));
upAxis.select(".domain").remove();
upAxis.selectAll("text").attr("font-size", 10).attr("font-family", "Liberation Sans").attr("fill", "#4d4d4d");

svg.append("text").attr("transform", "translate(10.5,502) rotate(-90)").attr("text-anchor", "middle").attr("dominant-baseline", "central")
  .attr("font-size", 13).attr("fill", "#222").text("Combination");

svg.append("rect").attr("x", 68.7).attr("y", 577).attr("width", 543.6).attr("height", 10).attr("fill", "#efefef");
upsetSets.forEach(s => label(65, upRows(s), s, 10, { anchor: "end", fill: "#4d4d4d" }));
upsetMembers.forEach((m, i) => {
  const cx = upX(i) + upX.bandwidth() / 2;
  upsetSets.forEach(s => {
    svg.append("circle").attr("cx", cx).attr("cy", upRows(s)).attr("r", 2.7).attr("fill", m.includes(s) ? "#000" : "#cfcfcf");
  });
  if (m.length > 1) {
    const ys = m.map(s => upRows(s));
    svg.append("line").attr("x1", cx).attr("x2", cx).attr("y1", d3.min(ys)).attr("y2", d3.max(ys)).attr("stroke", "#333").attr("stroke-width", 1);
  }
});
label(340, 614.5, "group", 12.5, { anchor: "middle", fill: "#222" });

label(623, 472, "Class", 13.3, { fill: "#222" });
upsetClasses.slice().reverse().forEach((c, i) => {
  svg.append("rect").attr("x", 623).attr("y", 484 + i * 11).attr("width", 11).attr("height", 10.5).attr("fill", classCol[c]);
  label(640.7, 489.5 + i * 11, c, 10.3, { fill: "#222" });
});

// ---- D
label(30.7, 638, "Annotated position of peaks in the genome", 10.8, { fill: "#222" });
label(228.3, 658.8, "Annotation", 9.3, { fill: "#222" });
[["None", 276, 291.7], ["Near gene", 321, 336.7], ["Intron", 389.7, 404.7], ["Exon", 436.3, 451.3], ["Enhancer", 480, 495.3]].forEach(k => {
  svg.append("rect").attr("x", k[1]).attr("y", 653.3).attr("width", 10.8).attr("height", 10.6).attr("fill", classCol[k[0]]);
  label(k[2], 658.8, k[0], 10.6, { fill: "#222" });
});

const anX = d3.scaleBand().domain(d3.range(annoBars.length)).range([30.7, 736.7]).paddingInner(0.1).paddingOuter(0.152);
const anY = d3.scaleLinear().domain([0, 100]).range([847.3, 685.7]);
const anStack = d3.stack().keys(annoClasses)(annoBars.map((d, i) => ({
  "Enhancer": annoEnhancer[i], "Exon": annoExon[i], "Intron": annoIntron[i], "Near gene": annoNear[i], "None": annoNone[i]
})));
svg.append("g").selectAll("g").data(anStack).join("g")
  .attr("fill", d => classCol[d.key])
  .selectAll("rect").data(d => d).join("rect")
  .attr("x", (d, i) => anX(i))
  .attr("y", d => anY(Math.min(d[1], 100)))
  .attr("width", anX.bandwidth())
  .attr("height", d => anY(d[0]) - anY(Math.min(d[1], 100)));

svg.append("rect").attr("x", 30.7).attr("y", 677.3).attr("width", 706).attr("height", 178).attr("fill", "none").attr("stroke", "#8c8c8c").attr("stroke-width", 0.7);

// small bottom segments get pushed sideways so the two numbers do not collide
const enhancerNudge = [-12, -11, 0, -11, 11.5, 6.5, 12.5];
const exonNudge = [12, 11.5, 0, 11.5, -11.5, -11, -11];
anStack.forEach(s => {
  s.forEach((d, i) => {
    const v = d[1] - d[0];
    if (v === 0) return;
    let dx = 0;
    if (s.key == "Enhancer") dx = enhancerNudge[i];
    if (s.key == "Exon") dx = exonNudge[i];
    svg.append("text")
      .attr("x", anX(i) + anX.bandwidth() / 2 + dx)
      .attr("y", anY((d[0] + d[1]) / 2))
      .attr("text-anchor", "middle").attr("dominant-baseline", "central")
      .attr("font-size", 12.5).attr("fill", "#222")
      .attr("stroke", "#fff").attr("stroke-width", 1).attr("stroke-opacity", 0.35)
      .attr("paint-order", "stroke")
      .text(v.toFixed(1).replace(".0", ""));
  });
});

const anAxis = svg.append("g").attr("transform", "translate(30.7,0)").call(d3.axisLeft(anY).tickValues([0, 25, 50, 75, 100]).tickSize(2.2).tickPadding(1.5).tickFormat(d => (d / 100).toFixed(2)));
anAxis.select(".domain").remove();
anAxis.selectAll("text").attr("font-size", 7.4).attr("font-family", "Liberation Sans").attr("fill", "#4d4d4d");
anAxis.selectAll("line").attr("stroke", "#333").attr("stroke-width", 0.5);
svg.append("text").attr("transform", "translate(5.5,767) rotate(-90)").attr("text-anchor", "middle").attr("dominant-baseline", "central")
  .attr("font-size", 9.3).attr("fill", "#222").text("Fraction");

annoBars.forEach((d, i) => {
  const cx = anX(i) + anX.bandwidth() / 2;
  svg.append("line").attr("x1", cx).attr("x2", cx).attr("y1", 855.3).attr("y2", 857.6).attr("stroke", "#333").attr("stroke-width", 0.5);
  const g = svg.append("g").attr("transform", "translate(" + (cx + 1) + ",883) rotate(13)");
  g.append("text").attr("text-anchor", "middle").attr("y", -2).attr("font-size", 10).attr("fill", "#4d4d4d").text(d[0]);
  g.append("text").attr("text-anchor", "middle").attr("y", 8.5).attr("font-size", 10).attr("fill", "#4d4d4d").text(d[1]);
});
</script>
</body>
</html>
